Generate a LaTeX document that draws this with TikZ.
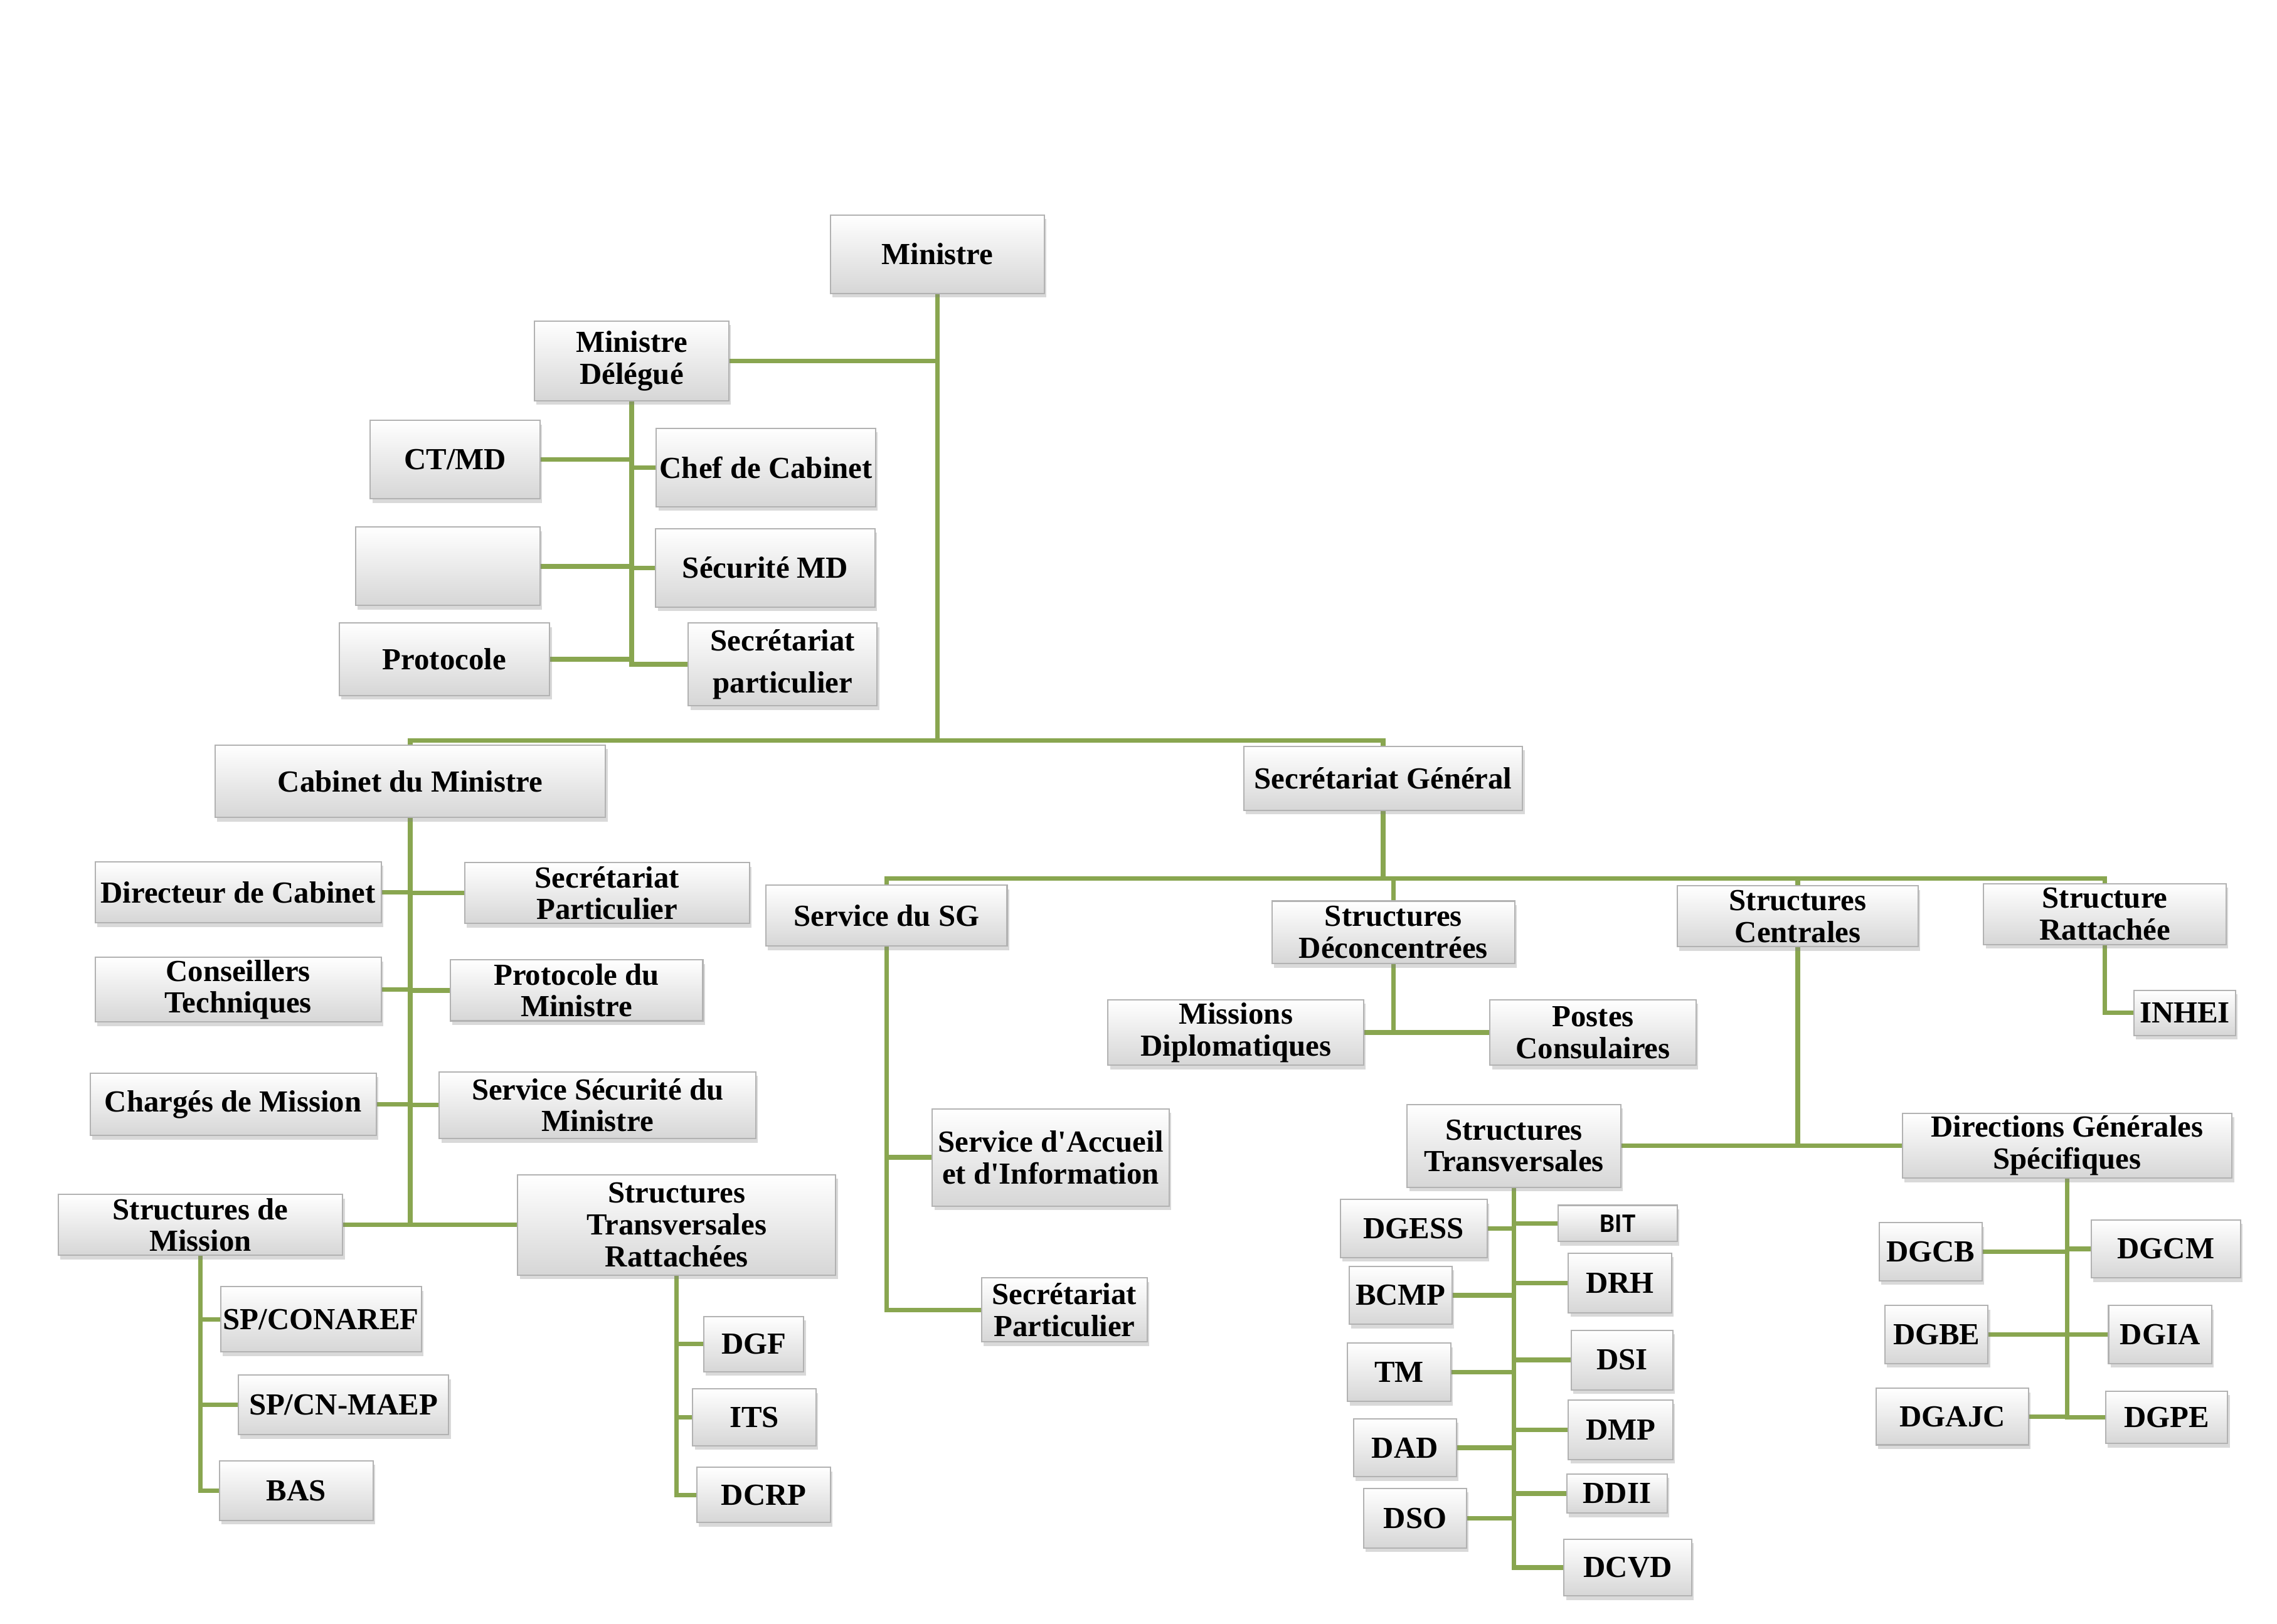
\documentclass[tikz,border=0pt]{standalone}
\usepackage{fontspec}
\setmainfont{Liberation Serif}
\newfontfamily\calfont{Carlito}
\usetikzlibrary{shadows}
\definecolor{orggreen}{RGB}{137,166,80}
\pgfdeclarelayer{bg}
\pgfsetlayers{bg,main}
\tikzset{
  box/.style={draw=gray!60, line width=0.5pt, top color=white, bottom color=gray!32,
    align=center, inner sep=1pt, font=\fontsize{12}{12.5}\selectfont\bfseries,
    drop shadow={shadow xshift=0.8pt, shadow yshift=-1.6pt, opacity=0.3}},
  wh/.style 2 args={minimum width=#1*0.02cm, minimum height=#2*0.02cm},
  link/.style={draw=orggreen, line width=1.8pt, line cap=rect},
}
\begin{document}
\begin{tikzpicture}[x=0.02cm,y=-0.02cm]
\useasboundingbox (0,0) rectangle (1568,1118);

\node[box, wh={147}{54}] (min) at (645.5,175) {Ministre};
\node[box, wh={134}{55}] (mind) at (435,248.5) {Ministre\\Délégué};
\node[box, wh={117}{54}] (ctmd) at (313.5,316.5) {CT/MD};
\node[box, wh={151}{54}] (chefcab) at (527.5,322) {Chef de Cabinet};
\node[box, wh={127}{54}] (blank) at (308.5,390) {};
\node[box, wh={151}{54}] (secmd) at (527,391) {Sécurité MD};
\node[box, wh={145}{50}] (proto) at (306,454) {Protocole};
\node[box, wh={130}{57}] (secpart) at (539,457.5) {Secrétariat\\[4pt]particulier};

\node[box, wh={269}{50}] (cab) at (282.5,538) {Cabinet du Ministre};
\node[box, wh={192}{44}] (sg) at (952.5,536) {Secrétariat Général};

\node[box, wh={197}{42}] (dircab) at (164,614.5) {Directeur de Cabinet};
\node[box, wh={196}{42}] (secpcab) at (418,615) {Secrétariat\\Particulier};
\node[box, wh={197}{42}] (conseil) at (164,681.5) {Conseillers\\Techniques};
\node[box, wh={174}{42}] (protmin) at (397,682) {Protocole du\\Ministre};
\node[box, wh={197}{43}] (charges) at (160.5,760.5) {Chargés de Mission};
\node[box, wh={218}{46}] (secumin) at (411.5,761) {Service Sécurité du\\Ministre};
\node[box, wh={196}{42}] (strmis) at (138,843.5) {Structures de\\Mission};
\node[box, wh={219}{69}] (strtr) at (466,843.5) {Structures\\Transversales\\Rattachées};

\node[box, wh={134}{45}] (spcon) at (221,908.5) {SP/CONAREF};
\node[box, wh={145}{41}] (spcn) at (236.5,967.5) {SP/CN-MAEP};
\node[box, wh={106}{41}] (bas) at (204,1026.5) {BAS};
\node[box, wh={69}{38}] (dgf) at (519,925.5) {DGF};
\node[box, wh={85}{39}] (its) at (519.5,976) {ITS};
\node[box, wh={92}{38}] (dcrp) at (526,1029.5) {DCRP};

\node[box, wh={166}{42}] (ssg) at (610.5,630.5) {Service du SG};
\node[box, wh={167}{43}] (sdec) at (959.5,642) {Structures\\Déconcentrées};
\node[box, wh={166}{42}] (scen) at (1238,631) {Structures\\Centrales};
\node[box, wh={167}{42}] (srat) at (1449.5,629.5) {Structure\\Rattachée};

\node[box, wh={163}{67}, inner sep=0pt] (sai) at (723.5,797) {Service d\textquotesingle Accueil\\et d\textquotesingle Information};
\node[box, wh={114}{44}] (secpsg) at (733,902) {Secrétariat\\Particulier};
\node[box, wh={176}{45}] (mdip) at (851,711) {Missions\\Diplomatiques};
\node[box, wh={142}{45}] (pcons) at (1097,711) {Postes\\Consulaires};
\node[box, wh={70}{31}] (inhei) at (1504.5,697.5) {INHEI};

\node[box, wh={147}{57}] (stt) at (1042.5,789) {Structures\\Transversales};
\node[box, wh={227}{44}] (dgs) at (1423.5,789) {Directions Générales\\Spécifiques};

\node[box, wh={101}{40}] (dgess) at (973.5,846) {DGESS};
\node[box, wh={71}{40}] (bcmp) at (964.5,892) {BCMP};
\node[box, wh={71}{40}] (tm) at (963.5,945) {TM};
\node[box, wh={71}{40}] (dad) at (967.5,997) {DAD};
\node[box, wh={71}{41}] (dso) at (974.5,1045.5) {DSO};
\node[box, wh={82}{25}, font=\calfont\fontsize{10.5}{12}\selectfont\bfseries] (bit) at (1114,842.5) {BIT};
\node[box, wh={71}{41}] (drh) at (1115.5,883.5) {DRH};
\node[box, wh={70}{41}] (dsi) at (1117,936.5) {DSI};
\node[box, wh={72}{41}] (dmp) at (1116,984.5) {DMP};
\node[box, wh={69}{27}] (ddii) at (1113.5,1028.5) {DDII};
\node[box, wh={88}{39}] (dcvd) at (1121,1079.5) {DCVD};

\node[box, wh={71}{40}] (dgcb) at (1329.5,862) {DGCB};
\node[box, wh={103}{40}] (dgcm) at (1491.5,860) {DGCM};
\node[box, wh={71}{40}] (dgbe) at (1333.5,919) {DGBE};
\node[box, wh={71}{40}] (dgia) at (1487.5,919) {DGIA};
\node[box, wh={105}{39}] (dgajc) at (1344.5,975.5) {DGAJC};
\node[box, wh={84}{36}] (dgpe) at (1492,976) {DGPE};

\coordinate (jmin) at (645.5,510);
\coordinate (jsg) at (952.5,605);

\begin{pgfonlayer}{bg}
\path [link] (min.south) edge (jmin);
\path [link] (mind.east) edge (mind.east -| jmin);
\draw [link] (cab.north) |- (jmin) -| (sg.north);
\path [link] (mind.south) edge (mind.south |- secpart.west);
\path [link] (ctmd.east) edge (ctmd.east -| mind.south);
\path [link] (chefcab.west) edge (chefcab.west -| mind.south);
\path [link] (blank.east) edge (blank.east -| mind.south);
\path [link] (secmd.west) edge (secmd.west -| mind.south);
\path [link] (proto.east) edge (proto.east -| mind.south);
\path [link] (secpart.west) edge (secpart.west -| mind.south);

\path [link] (cab.south) edge (cab.south |- strmis.east);
\path [link] (dircab.east) edge (dircab.east -| cab.south);
\path [link] (secpcab.west) edge (secpcab.west -| cab.south);
\path [link] (conseil.east) edge (conseil.east -| cab.south);
\path [link] (protmin.west) edge (protmin.west -| cab.south);
\path [link] (charges.east) edge (charges.east -| cab.south);
\path [link] (secumin.west) edge (secumin.west -| cab.south);
\path [link] (strmis.east) edge (strtr.west);
\path [link] (strmis.south) edge (strmis.south |- bas.west);
\path [link] (spcon.west) edge (spcon.west -| strmis.south);
\path [link] (spcn.west) edge (spcn.west -| strmis.south);
\path [link] (bas.west) edge (bas.west -| strmis.south);
\path [link] (strtr.south) edge (strtr.south |- dcrp.west);
\path [link] (dgf.west) edge (dgf.west -| strtr.south);
\path [link] (its.west) edge (its.west -| strtr.south);
\path [link] (dcrp.west) edge (dcrp.west -| strtr.south);

\path [link] (sg.south) edge (jsg);
\draw [link] (ssg.north) |- (jsg) -| (srat.north);
\path [link] (sdec.north) edge (sdec.north |- jsg);
\path [link] (scen.north) edge (scen.north |- jsg);
\path [link] (ssg.south) edge (ssg.south |- secpsg.west);
\path [link] (sai.west) edge (sai.west -| ssg.south);
\path [link] (secpsg.west) edge (secpsg.west -| ssg.south);
\path [link] (sdec.south) edge (sdec.south |- mdip.east);
\path [link] (mdip.east) edge (pcons.west);
\draw [link] (srat.south) |- (inhei.west);
\path [link] (scen.south) edge (scen.south |- stt.east);
\path [link] (stt.east) edge (dgs.west);

\path [link] (stt.south) edge (stt.south |- dcvd.west);
\path [link] (dgess.east) edge (dgess.east -| stt.south);
\path [link] (bcmp.east) edge (bcmp.east -| stt.south);
\path [link] (tm.east) edge (tm.east -| stt.south);
\path [link] (dad.east) edge (dad.east -| stt.south);
\path [link] (dso.east) edge (dso.east -| stt.south);
\path [link] (bit.west) edge (bit.west -| stt.south);
\path [link] (drh.west) edge (drh.west -| stt.south);
\path [link] (dsi.west) edge (dsi.west -| stt.south);
\path [link] (dmp.west) edge (dmp.west -| stt.south);
\path [link] (ddii.west) edge (ddii.west -| stt.south);
\path [link] (dcvd.west) edge (dcvd.west -| stt.south);

\path [link] (dgs.south) edge (dgs.south |- dgajc.east);
\path [link] (dgcb.east) edge (dgcb.east -| dgs.south);
\path [link] (dgcm.west) edge (dgcm.west -| dgs.south);
\path [link] (dgbe.east) edge (dgbe.east -| dgs.south);
\path [link] (dgia.west) edge (dgia.west -| dgs.south);
\path [link] (dgajc.east) edge (dgajc.east -| dgs.south);
\path [link] (dgpe.west) edge (dgpe.west -| dgs.south);
\end{pgfonlayer}
\end{tikzpicture}
\end{document}
